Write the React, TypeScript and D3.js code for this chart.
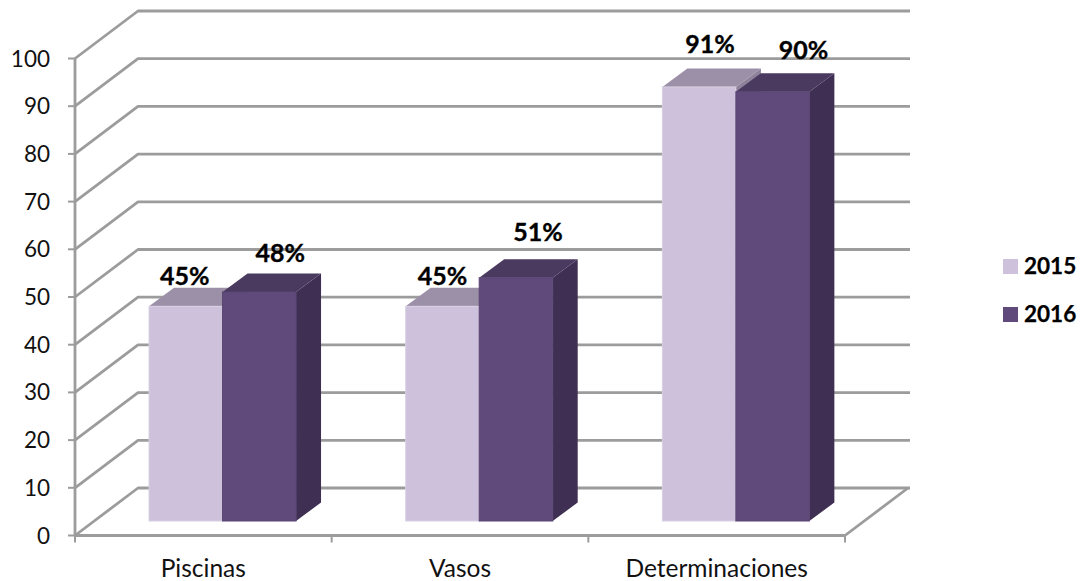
import React from "react";
import * as d3 from "d3";

const categories = ["Piscinas", "Vasos", "Determinaciones"];
const seriesNames = ["2015", "2016"];
const values2015 = [45, 45, 91];
const values2016 = [48, 51, 90];
const yTicks = [0, 10, 20, 30, 40, 50, 60, 70, 80, 90, 100];

const W = 1083, H = 581;
const X0 = 75, X1 = 845, Y0 = 535.5, Y100 = 58.5;
const DX = 63, DY = 47.5;
const BAR_DX = 25, BAR_DY = 18.5, BASE_Y = 521;
const GRID = "#9c9c9c";
const FACE = ["#cdc1dc", "#604a7b"];
const TOP = ["#9c90a8", "#4a3a60"];
const SIDE = ["#8d8299", "#3f2f52"];
const FONT = "Lato, 'Open Sans', sans-serif";
const LABEL_GAP = [[21, 30], [21, 37], [34, 33]];
const LABEL_DX = [[-1, 21], [0, 22], [11, 31]];

export default function App() {
  const y = d3.scaleLinear().domain([0, 100]).range([Y0, Y100]);
  const h = d3.scaleLinear().domain([0, 100]).range([0, Y0 - Y100]);
  const x = d3.scaleBand<string>().domain(categories).range([X0, X1]);
  const inner = d3.scaleBand<string>().domain(seriesNames).range([0, 147]);
  const line = d3.line<[number, number]>();
  const poly = (pts: [number, number][]) => line(pts) + "Z";
  const series = [values2015, values2016];
  const catTicks = [X0, ...categories.map((c) => (x(c) as number) + x.bandwidth())];
  const barStart = (c: string) => (x(c) as number) + x.bandwidth() / 2 - 54.3;

  return (
    <svg width={W} height={H} style={{ position: "absolute", left: 0, top: 0, background: "#fff" }} fontFamily={FONT}>
      <g fill="none" stroke={GRID} strokeWidth={2.8} strokeLinejoin="round">
        {yTicks.map((t) => (
          <path key={t} d={line([[X0, y(t)], [X0 + DX, y(t) - DY], [X1 + DX + 2, y(t) - DY]]) as string} />
        ))}
        <path d={line([[X1, Y0], [X1 + DX, Y0 - DY]]) as string} />
        <path d={line([[X0, Y100], [X0, Y0], [X1, Y0]]) as string} />
      </g>
      <g stroke={GRID} strokeWidth={2}>
        {yTicks.map((t) => (
          <line key={t} x1={X0 - 7} x2={X0} y1={y(t)} y2={y(t)} />
        ))}
        {catTicks.map((t) => (
          <line key={t} x1={t} x2={t} y1={Y0} y2={Y0 + 7} />
        ))}
      </g>
      <g fontSize={22.5} fill="#111" textAnchor="end">
        {yTicks.map((t) => (
          <text key={t} x={50} y={y(t) + 8}>{t}</text>
        ))}
      </g>
      <g fontSize={24.5} fill="#111" textAnchor="middle">
        {categories.map((c) => (
          <text key={c} x={(x(c) as number) + x.bandwidth() / 2} y={576.5}>{c}</text>
        ))}
      </g>
      {categories.map((c, ci) => (
        <g key={c}>
          {seriesNames.map((s, si) => {
            const l = barStart(c) + (inner(s) as number);
            const r = l + inner.bandwidth();
            const v = series[si][ci];
            const t = BASE_Y - h(v);
            return (
              <g key={s}>
                <path d={poly([[r, BASE_Y], [r + BAR_DX, BASE_Y - BAR_DY], [r + BAR_DX, t - BAR_DY], [r, t]])} fill={SIDE[si]} />
                <path d={poly([[l, t], [l + BAR_DX, t - BAR_DY], [r + BAR_DX, t - BAR_DY], [r, t]])} fill={TOP[si]} />
                <rect x={l} y={t} width={r - l} height={h(v)} fill={FACE[si]} stroke={si === 0 ? "#d8d0e2" : "#5a4574"} strokeWidth={1} />
              </g>
            );
          })}
        </g>
      ))}
      <g fontSize={25} fontWeight={700} fill="#000" stroke="#000" strokeWidth={0.35} textAnchor="middle">
        {categories.map((c, ci) =>
          seriesNames.map((s, si) => {
            const v = series[si][ci];
            return (
              <text key={s} x={barStart(c) + (inner(s) as number) + inner.bandwidth() / 2 + LABEL_DX[ci][si]} y={BASE_Y - h(v) - LABEL_GAP[ci][si]}>
                {v}%
              </text>
            );
          })
        )}
      </g>
      <g fontSize={22.5} fontWeight={700} fill="#000" stroke="#000" strokeWidth={0.25}>
        {seriesNames.map((s, i) => (
          <g key={s} transform={`translate(1003,${259 + i * 48})`}>
            <rect width={15} height={15} fill={FACE[i]} stroke="none" />
            <text x={21} y={15}>{s}</text>
          </g>
        ))}
      </g>
    </svg>
  );
}
